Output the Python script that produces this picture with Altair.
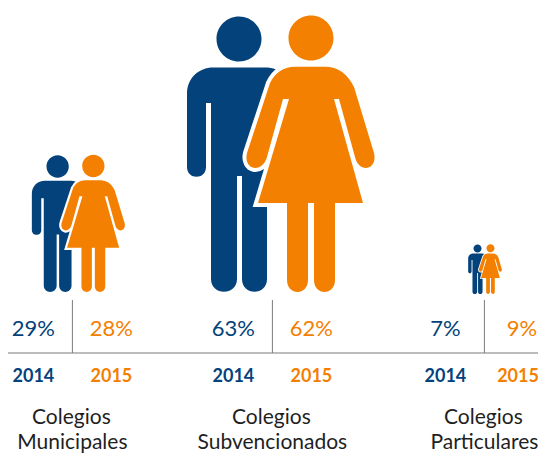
import re
import altair as alt
import pandas as pd

groups_line1 = ["Colegios", "Colegios", "Colegios"]
groups_line2 = ["Municipales", "Subvencionados", "Particulares"]
pct_2014 = [29, 63, 7]
pct_2015 = [28, 62, 9]
year_a = "2014"
year_b = "2015"
NAVY = "#03427a"
ORANGE = "#f38000"
GREY = "#7b7b7b"
FONT = "Lato"

order = list(range(len(groups_line2)))
df = pd.DataFrame({
    "order": order,
    "line1": groups_line1,
    "line2": groups_line2,
    "p14": pct_2014,
    "p15": pct_2015,
})
df["t14"] = df["p14"].astype(str) + "%"
df["t15"] = df["p15"].astype(str) + "%"
df["y14"] = year_a
df["y15"] = year_b


def circle(cx, cy, r):
    k = 0.5523 * r
    return (f"M {cx-r} {cy} C {cx-r} {cy-k} {cx-k} {cy-r} {cx} {cy-r} "
            f"C {cx+k} {cy-r} {cx+r} {cy-k} {cx+r} {cy} "
            f"C {cx+r} {cy+k} {cx+k} {cy+r} {cx} {cy+r} "
            f"C {cx-k} {cy+r} {cx-r} {cy+k} {cx-r} {cy} Z ")


def unit(path):
    return re.sub(r"-?\d+\.?\d*", lambda m: f"{float(m.group())/100:.4f}", path)


MAN = unit(circle(-36, -253, 22.5) + (
    "M -88 -125 L -88 -198 C -88 -214 -76 -224.5 -62 -224.5 L -10 -224.5 "
    "C 6 -224.5 16 -214 16 -198 L 16 -125 C 16 -112 -3 -112 -3 -125 L -3 -189 L -8 -189 "
    "L -8 -13 C -8 4 -33 4 -33 -13 L -33 -116 L -38 -116 L -38 -13 C -38 4 -64 4 -64 -13 "
    "L -64 -189 L -69 -189 L -69 -125 C -69 -112 -88 -112 -88 -125 Z"))
WOMAN = unit(circle(36, -254, 22.5) + (
    "M -28 -139 L -5 -209 C 0 -219 8 -225.3 20 -225.3 L 50 -225.3 C 63 -225.3 73 -218 79 -205 "
    "L 99 -139 C 103 -122 84 -118 80 -135 L 64 -193 L 59 -193 L 88 -89 L 60 -89 L 60 -12 "
    "C 60 4 39 4 39 -12 L 39 -89 L 33 -89 L 33 -12 C 33 4 12 4 12 -12 L 12 -89 L -17 -89 "
    "L 14 -193 L 8 -193 L -8 -135 C -13 -118 -32 -122 -28 -139 Z"))

W, H = 530, 447
ORDER_DOM = order
DIVIDER_X = [64.4, 264.4, 476.4]
ICON_X = [67.5, 267, 476]
FOOT_Y = [284, 284, 286]
B_LABEL_X = [103.4, 303.4, 510]
B_PCT_X = [103.4, 303.4, 514]

sx = alt.Scale(domain=ORDER_DOM, range=DIVIDER_X)
x_div = alt.X("order:Q", scale=sx, axis=None)
x_icon = alt.X("order:Q", scale=alt.Scale(domain=ORDER_DOM, range=ICON_X), axis=None)
y_icon = alt.Y("order:Q", scale=alt.Scale(domain=ORDER_DOM, range=FOOT_Y), axis=None)
x_blab = alt.X("order:Q", scale=alt.Scale(domain=ORDER_DOM, range=B_LABEL_X), axis=None)
x_bpct = alt.X("order:Q", scale=alt.Scale(domain=ORDER_DOM, range=B_PCT_X), axis=None)

man_size = alt.Size("p14:Q", legend=None,
                    scale=alt.Scale(domain=[7, 29, 63], range=[1296, 9841, 40000]))
wom_size = alt.Size("p15:Q", legend=None,
                    scale=alt.Scale(domain=[9, 28, 62], range=[1296, 9841, 40000]))

base = alt.Chart(df)

man = base.mark_point(shape=MAN, filled=True, fill=NAVY, opacity=1, strokeWidth=0).encode(
    x=x_icon, y=y_icon, size=man_size)
halo = base.mark_point(shape=WOMAN, filled=True, fill="white", stroke="white", opacity=1).encode(
    x=x_icon, y=y_icon, size=wom_size,
    strokeWidth=alt.StrokeWidth("p15:Q", legend=None,
                                scale=alt.Scale(domain=[9, 28, 62], range=[1.6, 4.4, 8])))
woman = base.mark_point(shape=WOMAN, filled=True, fill=ORANGE, opacity=1, strokeWidth=0).encode(
    x=x_icon, y=y_icon, size=wom_size)
icons = alt.layer(man, halo, woman).resolve_scale(size="independent", strokeWidth="independent")

dividers = base.mark_rule(color=GREY, strokeWidth=1).encode(
    x=x_div, y=alt.value(292), y2=alt.value(345))
baseline = alt.Chart(pd.DataFrame({"a": [0]})).mark_rule(color=GREY, strokeWidth=1.2).encode(
    x=alt.value(-1), x2=alt.value(W), y=alt.value(345))


def txt(field, x, dx, color, y, size, weight="normal"):
    return base.mark_text(font=FONT, fontSize=size, fontWeight=weight, color=color,
                          align="center", baseline="alphabetic", dx=dx).encode(
        x=x, y=alt.value(y), text=f"{field}:N")


a_layers = alt.layer(
    dividers, baseline,
    txt("t14", x_div, -39, NAVY, 328, 22),
    txt("y14", x_div, -39, NAVY, 374, 18, "bold"),
    txt("line1", x_div, -1, "#1f1f1f", 416, 21),
    txt("line2", x_div, 0, "#1f1f1f", 441, 21),
)

chart = alt.layer(
    icons, a_layers,
    txt("t15", x_bpct, 0, ORANGE, 328, 22),
    txt("y15", x_blab, 0, ORANGE, 374, 18, "bold"),
).resolve_scale(x="independent", y="independent").properties(
    width=W, height=H, padding=0, autosize=alt.AutoSizeParams(type="none"),
    background="white",
).configure_view(stroke=None)

chart.save("out.html", embed_options={"renderer": "svg", "actions": False})
